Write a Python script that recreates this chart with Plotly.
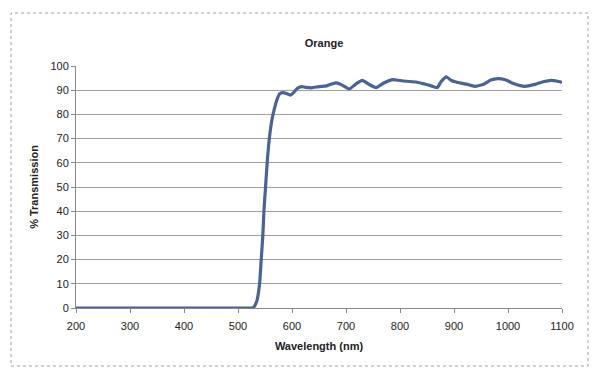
import plotly.graph_objects as go

wavelength = [200, 300, 400, 500, 525, 529, 535, 540, 543, 546, 548, 551, 554, 558, 563, 567,
              572, 577, 583, 590, 597, 603, 610, 617, 625, 636, 650, 664, 675, 682, 692, 706,
              718, 730, 742, 756, 770, 787, 800, 812, 830, 843, 855, 869, 876, 886, 895, 904,
              923, 938, 955, 968, 981, 995, 1010, 1031, 1050, 1065, 1080, 1090, 1100]
transmission = [0, 0, 0, 0, 0, 0.3, 3, 10, 20, 30, 40, 50, 60, 70, 78, 82,
                86, 88.5, 89, 88.6, 88, 89, 90.8, 91.5, 91.2, 91, 91.5, 91.8, 92.7, 93, 92.2, 90.5,
                92.5, 94.1, 92.5, 91.1, 93, 94.4, 94, 93.7, 93.4, 92.7, 92, 91.1, 93.5, 95.5, 94, 93.4,
                92.5, 91.6, 92.5, 94.2, 94.8, 94.3, 92.8, 91.6, 92.4, 93.5, 94.1, 93.8, 93.2]

x_ticks = list(range(200, 1101, 100))
y_ticks = list(range(0, 101, 10))

font_family = "Liberation Sans, Arial, sans-serif"

# page body has an 8px default margin: figure is sized/offset to compensate
W, H = 592, 370
L, R, T, B = 68, 38, 58, 70
pw = W - L - R
ph = H - T - B

fig = go.Figure()
fig.add_trace(go.Scatter(
    x=wavelength, y=transmission, mode="lines",
    line=dict(color="#4A6394", width=3.2, shape="spline", smoothing=0.5),
    hoverinfo="x+y", showlegend=False,
))

fig.update_layout(
    width=W, height=H,
    margin=dict(l=L, r=R, t=T, b=B),
    paper_bgcolor="white", plot_bgcolor="white",
    font=dict(family=font_family, size=11, color="#222222"),
    title=dict(text="<b>Orange</b>", x=(324 - 8 - L) / pw, xref="paper", xanchor="center",
               y=1 - 35 / H, yanchor="middle",
               font=dict(size=11, color="#222222")),
    xaxis=dict(
        range=[200, 1100], tickvals=x_ticks, ticks="outside", ticklen=4, tickcolor="#888888",
        showline=True, linecolor="#888888", linewidth=1, showgrid=False, zeroline=False,
        title=dict(text="<b>Wavelength (nm)</b>", standoff=11, font=dict(size=11)),
        tickfont=dict(size=11), ticklabelstandoff=4,
    ),
    yaxis=dict(
        range=[0, 100], tickvals=y_ticks, ticks="outside", ticklen=4, tickcolor="#888888",
        showline=True, linecolor="#888888", linewidth=1, showgrid=True, gridcolor="#A0A0A0",
        gridwidth=1, zeroline=False,
        title=dict(text="<b>% Transmission</b>", standoff=9, font=dict(size=11)),
        tickfont=dict(size=11),
    ),
    shapes=[dict(type="rect", xref="paper", yref="paper",
                 x0=(3 - L) / pw, x1=(580 - L) / pw,
                 y0=(ph - (358 - T)) / ph, y1=(ph - (5 - T)) / ph,
                 line=dict(color="#A0A0A0", width=1, dash="dot"), layer="below")],
)

fig.write_html("out.html")
